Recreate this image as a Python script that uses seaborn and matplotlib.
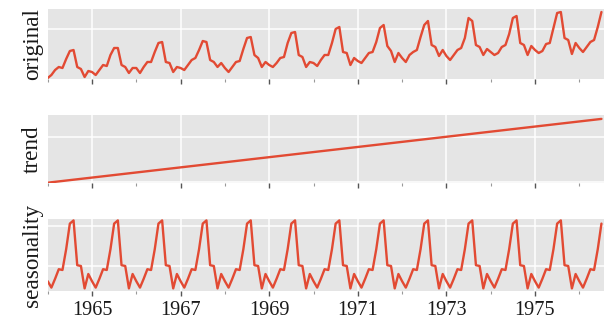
import numpy as np
import matplotlib
matplotlib.use("Agg")
import matplotlib.pyplot as plt
import seaborn as sns

# monthly series, Jan 1964 .. Jul 1976
original = [
    1, 4, 9, 12, 11, 20, 28, 29, 12, 10, 2, 8,       # 1964
    7, 4, 9, 14, 13, 24, 31, 31, 14, 12, 6, 11,      # 1965
    11, 6, 12, 17, 17, 27, 36, 37, 17, 16, 7, 12,    # 1966
    11, 9, 14, 19, 21, 29, 38, 37, 19, 17, 12, 16,   # 1967
    11, 7, 12, 17, 18, 30, 41, 42, 24, 21, 12, 17,   # 1968
    14, 12, 16, 21, 22, 36, 46, 47, 24, 22, 12, 17,  # 1969
    16, 13, 19, 24, 24, 36, 50, 52, 27, 26, 14, 21,  # 1970
    18, 16, 21, 26, 27, 37, 51, 54, 33, 28, 17, 26,  # 1971
    21, 17, 24, 27, 29, 42, 54, 58, 34, 32, 23, 29,  # 1972
    23, 19, 24, 29, 31, 41, 61, 58, 34, 32, 24, 30,  # 1973
    27, 24, 26, 32, 34, 45, 61, 63, 36, 34, 24, 33,  # 1974
    29, 26, 28, 35, 36, 51, 66, 67, 41, 39, 25, 36,  # 1975
    31, 27, 32, 37, 39, 52, 67,                      # 1976
]
trend_months = [0, 150]
trend_values = [-1.1, 70.7]
seasonal_profile = [-19, -27, -16, -4, -5, 21, 53, 57, 1, 0, -28, -10]  # Jan..Dec

start_year = 1964
label_years = [1965, 1967, 1969, 1971, 1973, 1975]
minor_years = [1964, 1966, 1968, 1970, 1972, 1974, 1976]

n = len(original)
t = start_year + np.arange(n) / 12
seasonality = np.tile(seasonal_profile, n // 12 + 1)[:n]
trend_t = start_year + np.array(trend_months) / 12

sns.set_theme(style="darkgrid", rc={
    "axes.facecolor": "#E5E5E5",
    "grid.color": "white",
    "grid.linewidth": 1.1,
})
plt.rcParams["font.family"] = ["Liberation Serif", "DejaVu Serif"]

RED = "#E24A33"
fig = plt.figure(figsize=(6.04, 3.26), dpi=100)

W, H = 604, 326
left, right = 47.7, 604
panels = [
    # (top px, bottom px, label, x, y, ylim, yticks)
    (9, 79, "original", t, original, (0, 70), [50]),
    (115, 183, "trend", trend_t, trend_values, (-1.46, 75.1), [0, 50]),
    (219, 291, "seasonality", t, seasonality, (-31.25, 58.75), [0, 50]),
]

for i, (top, bot, name, xs, ys, ylim, yt) in enumerate(panels):
    ax = fig.add_axes([left / W, (H - bot) / H, (right - left) / W, (bot - top) / H])
    sns.lineplot(x=xs, y=ys, ax=ax, color=RED, linewidth=1.7)
    ax.set_xlim(start_year, start_year + (right - left) / 44.3)
    ax.set_ylim(*ylim)
    ax.set_yticks(yt)
    ax.tick_params(axis="y", length=0, labelleft=False)
    ax.set_xticks(label_years)
    ax.set_xticks(minor_years, minor=True)
    ax.grid(True, which="major", axis="both")
    ax.grid(False, which="minor")
    ax.tick_params(axis="x", which="major", bottom=True, length=3.5, width=1.0,
                   color="#555555", pad=4, labelsize=14.6, labelcolor="#1a1a1a")
    ax.tick_params(axis="x", which="minor", bottom=True, length=2.5, width=0.8,
                   color="#999999")
    if i < 2:
        ax.tick_params(axis="x", labelbottom=False)
    else:
        ax.set_xticklabels([str(y) for y in label_years])
    for s in ax.spines.values():
        s.set_visible(False)
    ax.set_xlabel("")
    ax.set_ylabel(name, fontsize=16.7, color="#1a1a1a")
    ax.yaxis.set_label_coords(-0.008, 0.5)

fig.savefig("out.png", dpi=100)
